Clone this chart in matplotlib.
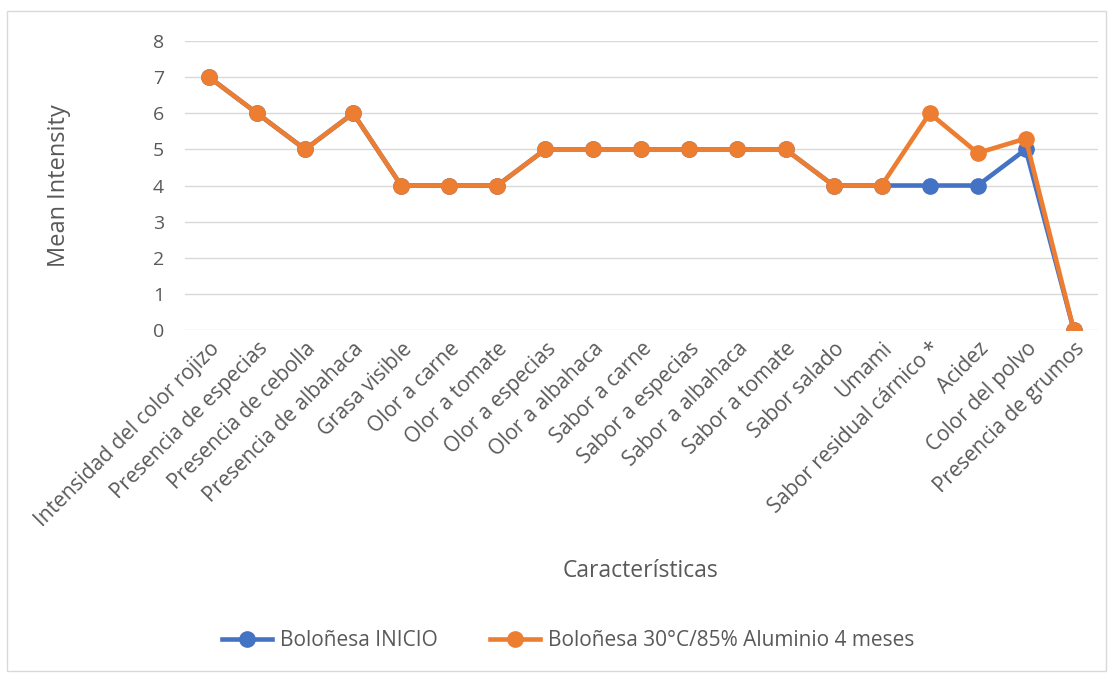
import numpy as np
import matplotlib.pyplot as plt
from matplotlib.patches import Rectangle

categories = ["Intensidad del color rojizo", "Presencia de especias", "Presencia de cebolla",
              "Presencia de albahaca", "Grasa visible", "Olor a carne", "Olor a tomate",
              "Olor a especias", "Olor a albahaca", "Sabor a carne", "Sabor a especias",
              "Sabor a albahaca", "Sabor a tomate", "Sabor salado", "Umami",
              "Sabor residual cárnico *", "Acidez", "Color del polvo", "Presencia de grumos"]
inicio = [7, 6, 5, 6, 4, 4, 4, 5, 5, 5, 5, 5, 5, 4, 4, 4, 4, 5, 0]
aluminio = [7, 6, 5, 6, 4, 4, 4, 5, 5, 5, 5, 5, 5, 4, 4, 6, 4.9, 5.3, 0]
names = ["Boloñesa INICIO", "Boloñesa 30°C/85% Aluminio 4 meses"]

plt.rcParams['font.family'] = ['Open Sans', 'DejaVu Sans']
txt = '#595959'

fig = plt.figure(figsize=(11.1, 6.73), dpi=100)
ax = fig.add_axes([0.1667, 0.5097, 0.8223, 0.4293])
x = np.arange(len(categories))
ax.plot(x, inicio, color='#4472C4', lw=3.3, marker='o', ms=11, label=names[0], zorder=3)
ax.plot(x, aluminio, color='#ED7D31', lw=3.3, marker='o', ms=11, label=names[1], zorder=4)

ax.set_xlim(-0.5, len(categories) - 0.5)
ax.set_ylim(0, 8)
ax.set_yticks(range(0, 9))
ax.set_xticks(x)
ax.set_xticklabels(categories, rotation=45, ha='right', rotation_mode='anchor')
ax.tick_params(axis='both', length=0, colors=txt)
ax.tick_params(axis='y', pad=15, labelsize=14)
ax.tick_params(axis='x', pad=6, labelsize=15)
ax.grid(axis='y', color='#d9d9d9', lw=1)
ax.set_axisbelow(True)
for s in ax.spines.values():
    s.set_visible(False)
ax.set_ylabel("Mean Intensity", fontsize=17, color=txt)
ax.yaxis.set_label_coords(-0.125, 0.5)
fig.text(0.577, 0.152, "Características", fontsize=16.5, color=txt, ha='center', va='center')

fig.legend(loc='center', bbox_to_anchor=(0.512, 0.048), ncol=2, frameon=False,
           fontsize=15, labelcolor=txt, handlelength=2.4, columnspacing=2.5, handletextpad=0.4)
fig.patches.append(Rectangle((0.006, 0.003), 0.99, 0.981, transform=fig.transFigure,
                             fill=False, edgecolor='#d9d9d9', lw=1))
fig.savefig('out.png', dpi=100)
